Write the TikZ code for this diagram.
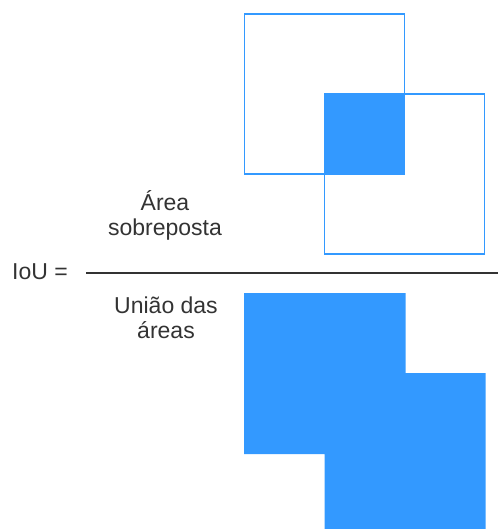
\documentclass[tikz,border=0pt]{standalone}
\usepackage{fontspec}
\setmainfont{Liberation Sans}
\definecolor{boxblue}{HTML}{3399FF}
\definecolor{lineg}{HTML}{333333}
\begin{document}
\begin{tikzpicture}[x=1pt,y=-1pt,
  sq/.style={draw=boxblue,line width=1.3pt,minimum width=160pt,minimum height=160pt,inner sep=0pt,outer sep=0pt,anchor=north west},
  lbl/.style={font=\fontsize{23}{25}\selectfont,text=lineg,align=center,inner sep=0pt},
  frac/.style={draw=lineg,line width=1.5pt},
  unionfill/.style={fill=boxblue}]
\useasboundingbox (0,0) rectangle (498,529);
% overlapping boxes
\node[sq] (a) at (244.7,14) {};
\node[sq] (b) at (324.7,94) {};
\fill[boxblue] (b.north west) rectangle (a.south east);
% fraction
\node[lbl,anchor=west] (iou) at (12,272) {IoU =};
\coordinate (l1) at (86,273);
\coordinate (l2) at (498,273);
\draw[frac] (l1) -- (l2);
\node[lbl] (num) at (165,215) {Área\\sobreposta};
\node[lbl] (den) at (166,317.5) {União das\\áreas};
% union shape
\fill[unionfill] (244,293) -- (405.5,293) -- (405.5,373) -- (485.5,373) -- (485.5,529) -- (324.5,529) -- (324.5,454) -- (244,454) -- cycle;
\end{tikzpicture}
\end{document}
